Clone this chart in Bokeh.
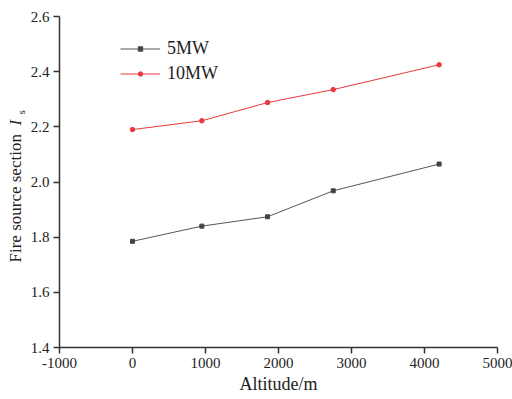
import math
from bokeh.plotting import figure
from bokeh.layouts import row
from bokeh.models import Range1d, Legend, LegendItem, FixedTicker
from bokeh.core.properties import value
from bokeh.embed import file_html
from bokeh.resources import INLINE

altitude = [0, 950, 1850, 2750, 4200]
mw5 = [1.785, 1.840, 1.874, 1.968, 2.065]
mw10 = [2.190, 2.222, 2.288, 2.335, 2.425]
x_ticks = [-1000, 0, 1000, 2000, 3000, 4000, 5000]
y_ticks = [1.4, 1.6, 1.8, 2.0, 2.2, 2.4, 2.6]
y_title = "Fire source section"
y_symbol = "I"
y_sub = "s"

FONT = "Liberation Serif"
TXT = "#222222"

# narrow strip holding the rotated y-axis title; its frame gets aligned with
# the main plot's frame, so map y to "pixels from the canvas bottom"
lab = figure(width=27, height=399, output_backend="svg", toolbar_location=None,
             x_range=Range1d(0, 27), y_range=Range1d(52, 383),
             min_border_left=0, min_border_right=0,
             min_border_top=16, min_border_bottom=52)
lab.axis.visible = False
lab.grid.visible = False
lab.outline_line_color = None
lab.border_fill_color = "white"
lab.text(x=[15], y=[137], text=[y_title], angle=math.pi/2,
         text_font=value(FONT), text_font_size="17px", text_color=TXT,
         text_align="left", text_baseline="middle")
lab.text(x=[15], y=[274], text=[y_symbol], angle=math.pi/2,
         text_font=value(FONT), text_font_size="17px", text_font_style="italic",
         text_color=TXT, text_align="left", text_baseline="middle")
lab.text(x=[20], y=[285], text=[y_sub], angle=math.pi/2,
         text_font=value(FONT), text_font_size="11px", text_color=TXT,
         text_align="left", text_baseline="middle")

p = figure(width=485, height=399, output_backend="svg", toolbar_location=None,
           x_range=Range1d(-1000, 5000), y_range=Range1d(1.4, 2.6),
           min_border_left=32, min_border_right=15, min_border_top=16, min_border_bottom=52)
p.outline_line_color = None
p.grid.visible = False
p.background_fill_color = "white"
p.border_fill_color = "white"

for ax in (p.xaxis[0], p.yaxis[0]):
    ax.axis_line_color = "#333333"
    ax.axis_line_width = 1.5
    ax.major_tick_line_color = "#333333"
    ax.major_tick_line_width = 1.5
    ax.major_tick_out = 6
    ax.major_tick_in = 0
    ax.minor_tick_line_color = None
    ax.major_label_text_font = FONT
    ax.major_label_text_font_size = "15px"
    ax.major_label_text_color = TXT
    ax.major_label_standoff = 4

p.xaxis[0].ticker = FixedTicker(ticks=x_ticks)
p.yaxis[0].ticker = FixedTicker(ticks=y_ticks)
p.xaxis[0].major_label_overrides = {t: str(t) for t in x_ticks}
p.yaxis[0].major_label_overrides = {t: f"{t:.1f}" for t in y_ticks}
p.xaxis[0].axis_label = "Altitude/m"
p.xaxis[0].axis_label_text_font = FONT
p.xaxis[0].axis_label_text_font_style = "normal"
p.xaxis[0].axis_label_text_font_size = "18px"
p.xaxis[0].axis_label_text_color = TXT
p.xaxis[0].axis_label_standoff = 3

l5 = p.line(altitude, mw5, line_color="#555555", line_width=1)
s5 = p.scatter(altitude, mw5, marker="square", size=4, fill_color="#444444", line_color="#444444")
l10 = p.line(altitude, mw10, line_color="#e8393e", line_width=1)
s10 = p.scatter(altitude, mw10, marker="circle", size=4.5, fill_color="#e8393e", line_color="#e8393e")

legend = Legend(items=[LegendItem(label="5MW", renderers=[l5, s5]),
                       LegendItem(label="10MW", renderers=[l10, s10])],
                location=(61, 263), background_fill_alpha=0, border_line_color=None,
                label_text_font=FONT, label_text_font_size="18px", label_text_color=TXT,
                glyph_width=40, glyph_height=11, label_height=20, spacing=4, margin=0,
                padding=0, label_standoff=7)
p.add_layout(legend, "center")

layout = row(lab, p, spacing=0)
open("out.html", "w").write(file_html(layout, INLINE))
